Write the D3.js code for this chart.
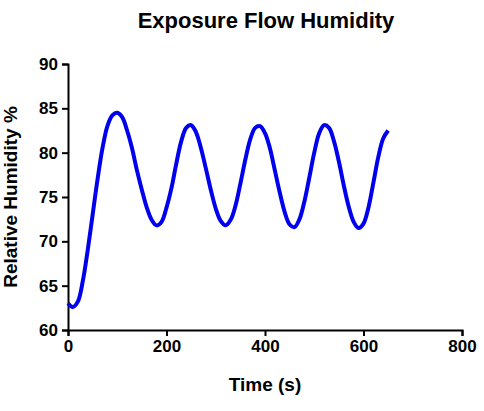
<!DOCTYPE html><html><head><meta charset="utf-8"><script src="https://cdn.jsdelivr.net/npm/d3@7"></script>
<style>body{margin:0;background:#fff}text{font-family:"Liberation Sans",Arial,sans-serif}</style></head><body>
<svg id="c" width="484" height="411"></svg>
<script>
const times=[0,10,20,30,40,50,60,70,80,90,100,110,120,130,140,150,160,170,180,190,200,210,220,230,240,250,260,270,280,290,300,310,320,330,340,350,360,370,380,390,400,410,420,430,440,450,460,470,480,490,500,510,520,530,540,550,560,570,580,590,600,610,620,630,640,650];
const humidity=[63.0,62.6,63.2,65.5,69,73,77,80.5,83,84.2,84.5,84,82.5,80.5,78,75.8,73.8,72.4,71.8,72.2,73.8,76,78.8,81.3,82.8,83.1,82.3,80.5,78.2,75.8,73.7,72.3,71.8,72.4,74,76.5,79.2,81.5,82.8,83,82.2,80.5,78,75.5,73.3,71.9,71.6,72.5,74.5,77.2,80,82.2,83.1,82.8,81.3,79,76.3,73.9,72.2,71.5,72,73.8,76.6,79.5,81.6,82.5];
const xTicks=[0,200,400,600,800];
const yTicks=[60,65,70,75,80,85,90];
const svg=d3.select("#c");
const x=d3.scaleLinear().domain([0,800]).range([68,462]);
const y=d3.scaleLinear().domain([60,90]).range([330,64]);
const xa=svg.append("g").attr("transform","translate(0,330)").call(d3.axisBottom(x).tickValues(xTicks).tickSize(6).tickPadding(4));
const ya=svg.append("g").attr("transform","translate(68,0)").call(d3.axisLeft(y).tickValues(yTicks).tickSize(6).tickPadding(4));
[xa,ya].forEach(a=>{a.selectAll("path,line").attr("stroke","#000").attr("stroke-width",2);a.selectAll("text").attr("font-size",17).attr("font-weight","bold").attr("fill","#000");});
svg.append("path").datum(times.map((t,i)=>[t,humidity[i]])).attr("fill","none").attr("stroke","#0000ee").attr("stroke-width",4)
 .attr("d",d3.line().x(d=>x(d[0])).y(d=>y(d[1])).curve(d3.curveCatmullRom));
svg.append("text").attr("x",266).attr("y",28).attr("text-anchor","middle").attr("font-size",22).attr("font-weight","bold").text("Exposure Flow Humidity");
svg.append("text").attr("x",265).attr("y",391).attr("text-anchor","middle").attr("font-size",19).attr("font-weight","bold").text("Time (s)");
svg.append("text").attr("transform","translate(17,197) rotate(-90)").attr("text-anchor","middle").attr("font-size",19).attr("font-weight","bold").text("Relative Humidity %");
</script></body></html>
